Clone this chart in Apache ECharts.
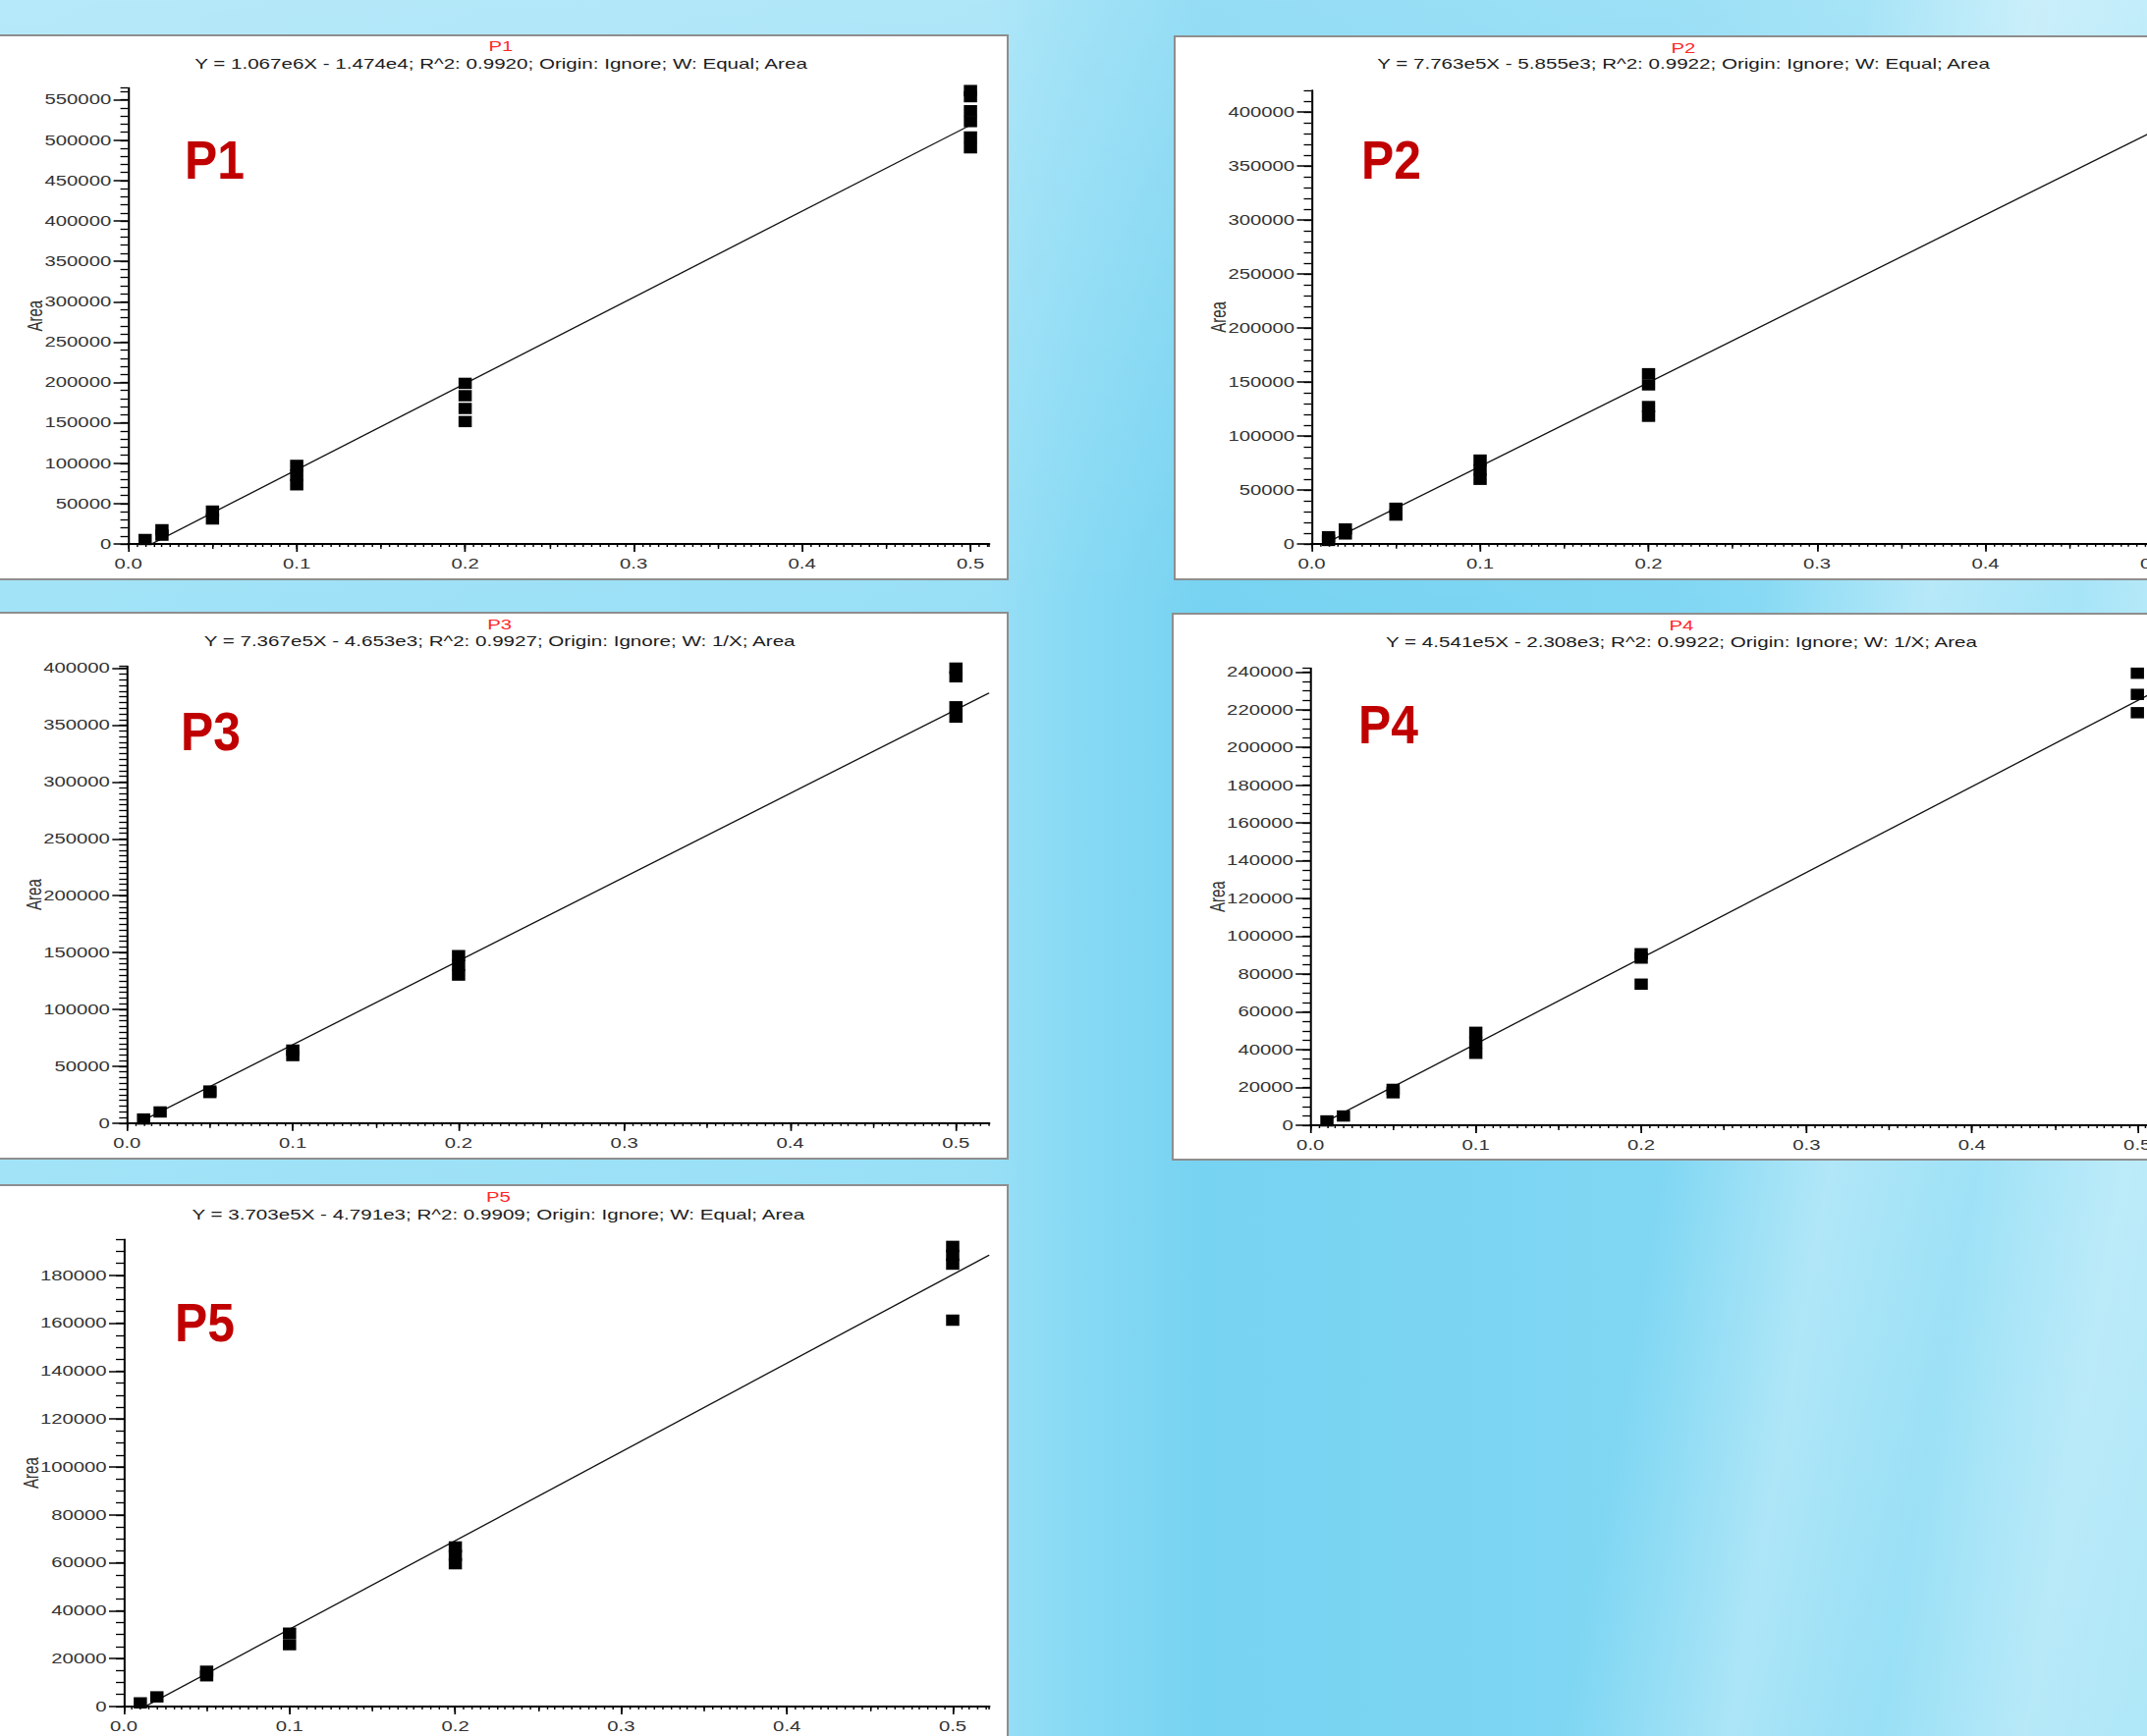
<!DOCTYPE html>
<html>
<head>
<meta charset="utf-8">
<title>Calibration curves P1–P5</title>
<script src="https://cdn.jsdelivr.net/npm/echarts@6.0.0/dist/echarts.min.js"></script>
<style>
  html, body { margin: 0; padding: 0; }
  body {
    width: 2186px; height: 1768px; overflow: hidden; position: relative;
    background-color: #8ad9f4;
    background-image:
      linear-gradient(100deg, rgba(255,255,255,0) 0%, rgba(255,255,255,0) 76%, rgba(255,255,255,0.32) 83%, rgba(255,255,255,0.08) 89%, rgba(255,255,255,0.28) 95%, rgba(255,255,255,0.12) 100%),
      linear-gradient(180deg, rgba(255,255,255,0.22) 0%, rgba(255,255,255,0) 35%),
      linear-gradient(90deg, #a2e3f7 0%, #98dff6 46%, #88daf4 50%, #76d3f1 56%, #7bd5f2 68%, #80d7f3 78%, #a4e4f7 100%);
  }
  .panel { position: absolute; background: #fff; border: 2px solid #8e8e8e; box-sizing: border-box; }
  #chart { position: absolute; left: 0; top: 0; height: 1768px; transform-origin: 0 0; }
</style>
</head>
<body>
<div id="panels"></div>
<div id="chart"></div>
<script>
// ---- tick values on the concentration axis ----
const xTickValues = [0, 0.1, 0.2, 0.3, 0.4, 0.5];
const xHalfTickValues = [0, 0.05, 0.1, 0.15, 0.2, 0.25, 0.3, 0.35, 0.4, 0.45, 0.5];

// ---- P1 ----
const p1Conc = [0.01, 0.02, 0.02, 0.05, 0.05, 0.1, 0.1, 0.1, 0.2, 0.2, 0.2, 0.2, 0.5, 0.5, 0.5, 0.5, 0.5, 0.5];
const p1Area = [5500, 17600, 10900, 40700, 31000, 97300, 85100, 73300, 198900, 183600, 167800, 151600, 561500, 553900, 536500, 523100, 504000, 490600];
const p1Slope = 1.067e6, p1Intercept = -1.474e4;
const p1Equation = 'Y = 1.067e6X - 1.474e4; R^2: 0.9920; Origin: Ignore; W: Equal; Area';
const p1AreaTicks = [0, 50000, 100000, 150000, 200000, 250000, 300000, 350000, 400000, 450000, 500000, 550000];
const p1FitRange = [0.01, 0.5];

// ---- P2 ----
const p2Conc = [0.01, 0.01, 0.02, 0.02, 0.05, 0.05, 0.1, 0.1, 0.1, 0.2, 0.2, 0.2, 0.2];
const p2Area = [6500, 3100, 13700, 9100, 32900, 26600, 77500, 68600, 59700, 157500, 147200, 127100, 118100];
const p2Slope = 7.763e5, p2Intercept = -5.855e3;
const p2Equation = 'Y = 7.763e5X - 5.855e3; R^2: 0.9922; Origin: Ignore; W: Equal; Area';
const p2AreaTicks = [0, 50000, 100000, 150000, 200000, 250000, 300000, 350000, 400000];
const p2FitRange = [0.01, 0.52];

// ---- P3 ----
const p3Conc = [0.01, 0.02, 0.05, 0.05, 0.1, 0.1, 0.2, 0.2, 0.2, 0.5, 0.5, 0.5, 0.5];
const p3Area = [3600, 9800, 28200, 26900, 64200, 59400, 147300, 138900, 130200, 400200, 392600, 366200, 357100];
const p3Slope = 7.367e5, p3Intercept = -4.653e3;
const p3Equation = 'Y = 7.367e5X - 4.653e3; R^2: 0.9927; Origin: Ignore; W: 1/X; Area';
const p3AreaTicks = [0, 50000, 100000, 150000, 200000, 250000, 300000, 350000, 400000];
const p3FitRange = [0.01, 0.52];

// ---- P4 ----
const p4Conc = [0.01, 0.02, 0.05, 0.05, 0.1, 0.1, 0.1, 0.2, 0.2, 0.2, 0.5, 0.5, 0.5];
const p4Area = [2300, 4900, 19000, 17200, 49200, 43700, 38100, 90800, 88500, 74700, 239300, 228100, 218400];
const p4Slope = 4.541e5, p4Intercept = -2.308e3;
const p4Equation = 'Y = 4.541e5X - 2.308e3; R^2: 0.9922; Origin: Ignore; W: 1/X; Area';
const p4AreaTicks = [0, 20000, 40000, 60000, 80000, 100000, 120000, 140000, 160000, 180000, 200000, 220000, 240000];
const p4FitRange = [0.01, 0.52];

// ---- P5 ----
const p5Conc = [0.01, 0.02, 0.05, 0.05, 0.1, 0.1, 0.2, 0.2, 0.2, 0.5, 0.5, 0.5, 0.5];
const p5Area = [1500, 4000, 14700, 12800, 30600, 25800, 66600, 63100, 59600, 192100, 188400, 184700, 161300];
const p5Slope = 3.703e5, p5Intercept = -4.791e3;
const p5Equation = 'Y = 3.703e5X - 4.791e3; R^2: 0.9909; Origin: Ignore; W: Equal; Area';
const p5AreaTicks = [0, 20000, 40000, 60000, 80000, 100000, 120000, 140000, 160000, 180000];
const p5FitRange = [0.01, 0.522];

const curves = [
  { name: 'P1', conc: p1Conc, area: p1Area, slope: p1Slope, intercept: p1Intercept, equation: p1Equation, ticks: p1AreaTicks, fitRange: p1FitRange },
  { name: 'P2', conc: p2Conc, area: p2Area, slope: p2Slope, intercept: p2Intercept, equation: p2Equation, ticks: p2AreaTicks, fitRange: p2FitRange },
  { name: 'P3', conc: p3Conc, area: p3Area, slope: p3Slope, intercept: p3Intercept, equation: p3Equation, ticks: p3AreaTicks, fitRange: p3FitRange },
  { name: 'P4', conc: p4Conc, area: p4Area, slope: p4Slope, intercept: p4Intercept, equation: p4Equation, ticks: p4AreaTicks, fitRange: p4FitRange },
  { name: 'P5', conc: p5Conc, area: p5Area, slope: p5Slope, intercept: p5Intercept, equation: p5Equation, ticks: p5AreaTicks, fitRange: p5FitRange }
];

// ---- page layout (screen pixels) ----
// The plots are drawn in a horizontally compressed frame and widened by K.
const K = 1.45;
const layout = [
  { box: [-10, 35, 1037, 556],  origin: [130.6, 554],   xScale: 1715, yScale: 8.224e-4,  xMax: 0.511, yMax: 565000, yMinor: 10000, head: [510, 47.5, 65],      tag: [188, 162.4] },
  { box: [1195, 36, 1037, 555], origin: [1335.5, 553.8], xScale: 1715, yScale: 1.0995e-3, xMax: 0.52,  yMax: 420000, yMinor: 10000, head: [1714, 49, 65.5],     tag: [1386, 162.4] },
  { box: [-10, 623, 1037, 558], origin: [129.3, 1143.8], xScale: 1688, yScale: 1.1578e-3, xMax: 0.52,  yMax: 402000, yMinor: 5000,  head: [508.6, 636.3, 653],  tag: [184, 745] },
  { box: [1193, 624, 1037, 558], origin: [1334.2, 1146], xScale: 1684, yScale: 1.9238e-3, xMax: 0.52,  yMax: 242000, yMinor: 5000,  head: [1712, 637.3, 654],   tag: [1383, 738] },
  { box: [-10, 1206, 1037, 600], origin: [126, 1737.9],  xScale: 1688, yScale: 2.4389e-3, xMax: 0.522, yMax: 195000, yMinor: 5000,  head: [507.3, 1219.5, 1236.8], tag: [178, 1346.5] }
];

// white panel frames behind each plot
const panelHost = document.getElementById('panels');
layout.forEach(l => {
  const d = document.createElement('div');
  d.className = 'panel';
  d.style.left = l.box[0] + 'px';
  d.style.top = l.box[1] + 'px';
  d.style.width = l.box[2] + 'px';
  d.style.height = l.box[3] + 'px';
  panelHost.appendChild(d);
});

// drawing surface is wider than the page so the right-hand plots run past the edge
const chartEl = document.getElementById('chart');
chartEl.style.width = (2400 / K) + 'px';
chartEl.style.transform = 'scaleX(' + K + ')';

const FONT = '"Liberation Sans", Arial, Helvetica, sans-serif';
const chart = echarts.init(chartEl, null, { renderer: 'svg' });

const grid = [], xAxis = [], yAxis = [], series = [], graphic = [];

curves.forEach((c, i) => {
  const l = layout[i];
  const plotH = l.yMax * l.yScale;
  grid.push({ left: l.origin[0] / K, top: l.origin[1] - plotH, width: l.xMax * l.xScale / K, height: plotH });

  // concentration axis: fine ticks, half-step ticks, labelled ticks
  const xCommon = { type: 'value', gridIndex: i, position: 'bottom', min: 0, max: l.xMax,
    splitLine: { show: false }, axisLabel: { show: false }, axisLine: { show: false, onZero: false } };
  xAxis.push(Object.assign({}, xCommon, { interval: 0.005,
    axisLine: { show: true, onZero: false, lineStyle: { color: '#000', width: 2 } },
    axisTick: { show: true, length: 3, lineStyle: { color: '#000', width: 1 } } }));
  xAxis.push(Object.assign({}, xCommon, { interval: 0.05,
    axisTick: { show: true, length: 5, customValues: xHalfTickValues, lineStyle: { color: '#000', width: 1 } } }));
  xAxis.push(Object.assign({}, xCommon, { interval: 0.1,
    axisTick: { show: true, length: 8, customValues: xTickValues, lineStyle: { color: '#000', width: 1.2 } },
    axisLabel: { show: true, customValues: xTickValues, formatter: v => v.toFixed(1), margin: 13,
      fontSize: 14, color: '#333', fontFamily: FONT } }));

  // area axis: minor ticks, labelled major ticks
  const major = c.ticks[1] - c.ticks[0];
  const yCommon = { type: 'value', gridIndex: i, position: 'left', min: 0, max: l.yMax,
    splitLine: { show: false }, axisLabel: { show: false }, axisLine: { show: false, onZero: false } };
  yAxis.push(Object.assign({}, yCommon, { interval: l.yMinor,
    axisLine: { show: true, onZero: false, lineStyle: { color: '#000', width: 1.4 } },
    axisTick: { show: true, length: 8 / K, lineStyle: { color: '#000', width: 1.3 } } }));
  yAxis.push(Object.assign({}, yCommon, { interval: major,
    axisTick: { show: true, length: 15 / K, customValues: c.ticks, lineStyle: { color: '#000', width: 1.5 } },
    axisLabel: { show: true, customValues: c.ticks, formatter: v => String(v), margin: 12,
      fontSize: 14, color: '#333', fontFamily: FONT },
    name: 'Area', nameLocation: 'middle', nameGap: 58, nameMoveOverlap: false,
    nameTextStyle: { fontSize: 15, color: '#333', fontFamily: FONT } }));

  // regression line from the stated equation
  series.push({ type: 'line', name: c.name + ' fit', xAxisIndex: i * 3, yAxisIndex: i * 2,
    data: c.fitRange.map(x => [x, c.slope * x + c.intercept]),
    symbol: 'none', lineStyle: { color: '#111', width: 1.2 }, clip: true, z: 2, silent: true });
  // calibration standards
  series.push({ type: 'scatter', name: c.name, xAxisIndex: i * 3, yAxisIndex: i * 2,
    data: c.conc.map((x, j) => [x, c.area[j]]),
    symbol: 'rect', symbolSize: [13.5 / K, 11.5], itemStyle: { color: '#000', opacity: 1 },
    clip: false, z: 3, silent: true });

  // panel headings
  graphic.push({ type: 'text', x: l.head[0] / K, y: l.head[1], silent: true,
    style: { text: c.name, fill: '#ff2828', font: '14px ' + FONT, align: 'center', textAlign: 'center', verticalAlign: 'middle', textVerticalAlign: 'middle' } });
  graphic.push({ type: 'text', x: l.head[0] / K, y: l.head[2], silent: true,
    style: { text: c.equation, fill: '#1c1c1c', font: '14.2px ' + FONT, align: 'center', textAlign: 'center', verticalAlign: 'middle', textVerticalAlign: 'middle' } });
  graphic.push({ type: 'text', x: l.tag[0] / K, y: l.tag[1], scaleX: 0.906 / K, silent: true,
    style: { text: c.name, fill: '#c00000', font: 'bold 55px ' + FONT, align: 'left', textAlign: 'left', verticalAlign: 'middle', textVerticalAlign: 'middle' } });
});

chart.setOption({
  animation: false,
  backgroundColor: 'transparent',
  grid, xAxis, yAxis, series,
  graphic: { elements: graphic }
});
</script>
</body>
</html>
